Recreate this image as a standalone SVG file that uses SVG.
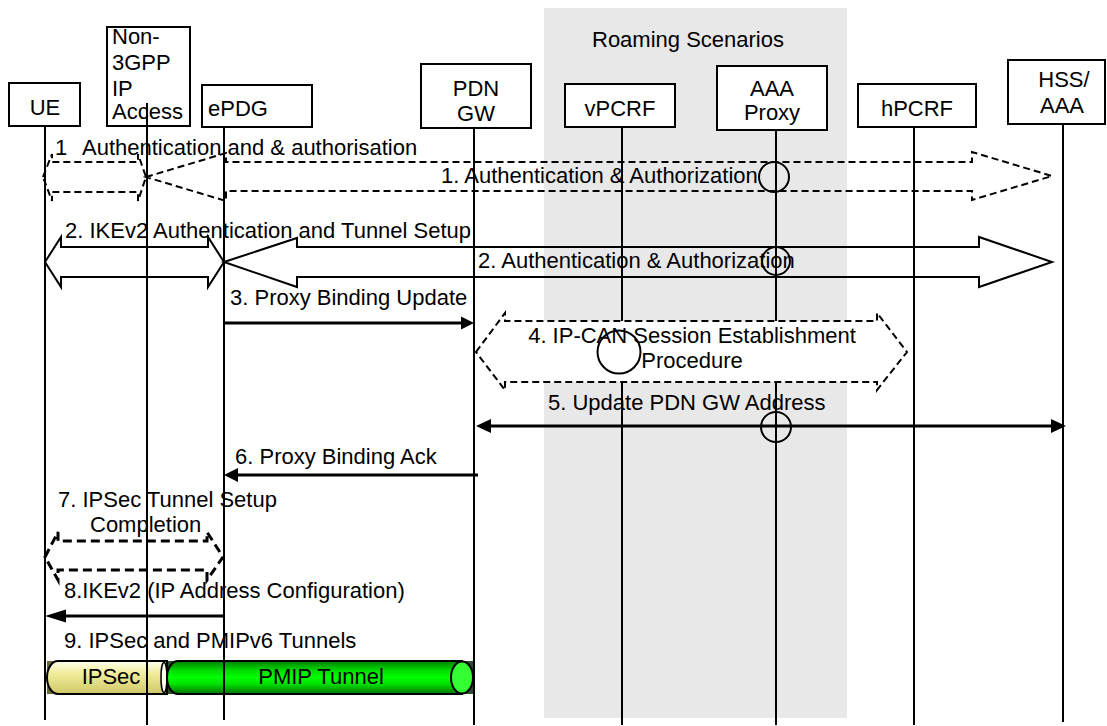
<svg xmlns="http://www.w3.org/2000/svg" width="1107" height="726" viewBox="0 0 1107 726">
<defs>
<style>
text{font-family:"Liberation Sans",Arial,sans-serif;font-size:22px;fill:#000}
.box{fill:#fff;stroke:#000;stroke-width:2}
.life{stroke:#000;stroke-width:2;fill:none}
.blk{fill:none;stroke:#000;stroke-width:2}
.dash{fill:none;stroke:#000;stroke-width:2;stroke-dasharray:7 4}
.dash2{fill:none;stroke:#000;stroke-width:3;stroke-dasharray:9 5}
.thick{stroke:#000;stroke-width:3;fill:none}
.circ{fill:none;stroke:#000;stroke-width:2}
.mid{text-anchor:middle}
</style>
<linearGradient id="gy" x1="0" y1="0" x2="0" y2="1">
<stop offset="0" stop-color="#fffff0"/>
<stop offset="0.35" stop-color="#f2ee9e"/>
<stop offset="1" stop-color="#d0c868"/>
</linearGradient>
<linearGradient id="gg" x1="0" y1="0" x2="0" y2="1">
<stop offset="0" stop-color="#008000"/>
<stop offset="0.3" stop-color="#00e000"/>
<stop offset="0.5" stop-color="#00ff00"/>
<stop offset="0.7" stop-color="#00e000"/>
<stop offset="1" stop-color="#007000"/>
</linearGradient>
</defs>
<rect width="1107" height="726" fill="#fff"/>
<rect x="544" y="8" width="303" height="710" fill="#e8e8e8"/>
<text x="688" y="47" class="mid">Roaming Scenarios</text>

<g id="tunnels">
<rect x="47" y="661" width="120" height="33" fill="#6b6b3a"/>
<rect x="167" y="661" width="306" height="33" fill="#2d4d2d"/>
<path d="M58,661 L167,661 L167,694 L58,694 A11,16.5 0 0 1 58,661 Z" fill="url(#gy)" stroke="#000" stroke-width="2"/>
<ellipse cx="164" cy="677.5" rx="3" ry="15" fill="#fffff0" stroke="#000" stroke-width="1.5"/>
<path d="M178,661 L462,661 L462,694 L178,694 A11,16.5 0 0 1 178,661 Z" fill="url(#gg)" stroke="#000" stroke-width="2"/>
<ellipse cx="462" cy="677.5" rx="11" ry="16" fill="#33ff33" stroke="#000" stroke-width="2"/>
<text x="111" y="684" class="mid">IPSec</text>
<text x="321" y="684" class="mid">PMIP Tunnel</text>
</g>

<g id="lifelines">
<line class="life" x1="45" y1="126" x2="45" y2="720"/>
<line class="life" x1="224" y1="127" x2="224" y2="720"/>
<line class="life" x1="474" y1="128" x2="474" y2="725"/>
<line class="life" x1="622" y1="127" x2="622" y2="725"/>
<line class="life" x1="776" y1="130" x2="776" y2="725"/>
<line class="life" x1="914" y1="127" x2="914" y2="725"/>
<line class="life" x1="1063" y1="124" x2="1063" y2="722"/>
</g>

<g id="UE"><rect class="box" x="9" y="83" width="71" height="43"/><text x="45" y="115" class="mid">UE</text></g>
<g id="Non3GPP"><rect class="box" x="107" y="27" width="83" height="99"/>
<text x="112" y="44">Non-</text><text x="112" y="70">3GPP</text><text x="112" y="96">IP</text><text x="112" y="119">Access</text></g>
<line class="life" x1="147" y1="103" x2="147" y2="725"/>
<g id="ePDG"><rect class="box" x="202" y="85" width="110" height="42"/><text x="208" y="116">ePDG</text></g>
<g id="PDNGW"><rect class="box" x="421" y="64" width="110" height="64"/><text x="476" y="96" class="mid">PDN</text><text x="476" y="121" class="mid">GW</text></g>
<g id="vPCRF"><rect class="box" x="565" y="84" width="110" height="43"/><text x="620" y="116" class="mid">vPCRF</text></g>
<g id="AAAProxy"><rect class="box" x="717" y="66" width="110" height="64"/><text x="772" y="96" class="mid">AAA</text><text x="772" y="120" class="mid">Proxy</text></g>
<g id="hPCRF"><rect class="box" x="858" y="84" width="118" height="43"/><text x="917" y="116" class="mid">hPCRF</text></g>
<g id="HSSAAA"><rect class="box" x="1008" y="60" width="97" height="64"/><text x="1064" y="87" class="mid">HSS/</text><text x="1062" y="113" class="mid">AAA</text></g>

<g id="connectors">
<path class="dash" d="M43,177 L52,154 L52,162 L138,162 L138,154 L146,177 L138,201 L138,192 L52,192 L52,201 Z"/>
<path class="dash" d="M146,177 L226,153 L226,162 L972,162 L972,152 L1052,176 L972,200 L972,191 L226,191 L226,201 Z"/>
<circle class="circ" cx="774" cy="177" r="15"/>
<path class="blk" d="M45,262 L61,237 L61,247 L208,247 L208,237 L224,262 L208,287 L208,277 L61,277 L61,287 Z"/>
<path class="blk" d="M224,262 L297,238 L297,247 L979,247 L979,237 L1052,262 L979,287 L979,277 L297,277 L297,287 Z"/>
<circle class="circ" cx="776" cy="261" r="14"/>
<line class="thick" x1="224" y1="323" x2="463" y2="323"/>
<path d="M474,323 L461,316.5 L461,329.5 Z" fill="#000"/>
<path class="dash" style="fill:#fff" d="M476,352 L505,313 L505,321 L877,321 L877,313 L907,352 L877,390 L877,382 L505,382 L505,390 Z"/>
<circle class="circ" cx="619" cy="352" r="21.5"/>
<line class="thick" x1="488" y1="426" x2="1052" y2="426"/>
<path d="M476,426 L491,419 L491,433 Z" fill="#000"/>
<path d="M1066,426 L1051,419 L1051,433 Z" fill="#000"/>
<circle class="circ" cx="776" cy="427" r="15"/>
<line class="thick" x1="478" y1="475" x2="235" y2="475"/>
<path d="M224,475 L238,468 L238,482 Z" fill="#000"/>
<path class="dash2" d="M45,557 L58,532 L58,541 L207,541 L207,532 L223,557 L207,580 L207,570 L58,570 L58,580 Z"/>
<line class="thick" x1="224" y1="616" x2="62" y2="616"/>
<path d="M45,616 L66,609.5 L66,622.5 Z" fill="#000"/>
</g>

<g id="labels">
<text x="55" y="155">1<tspan x="82">Authentication and &amp; authorisation</tspan></text>
<text x="441" y="183">1. Authentication &amp; Authorization</text>
<text x="65" y="238">2. IKEv2 Authentication and Tunnel Setup</text>
<text x="478" y="268">2. Authentication &amp; Authorization</text>
<text x="230" y="305">3. Proxy Binding Update</text>
<text x="692" y="343" class="mid">4. IP-CAN Session Establishment</text>
<text x="692" y="368" class="mid">Procedure</text>
<text x="548" y="410">5. Update PDN GW Address</text>
<text x="235" y="464">6. Proxy Binding Ack</text>
<text x="58" y="507">7. IPSec Tunnel Setup</text>
<text x="90" y="532">Completion</text>
<text x="64" y="598">8.IKEv2 (IP Address Configuration)</text>
<text x="64" y="648">9. IPSec and PMIPv6 Tunnels</text>
</g>
</svg>
